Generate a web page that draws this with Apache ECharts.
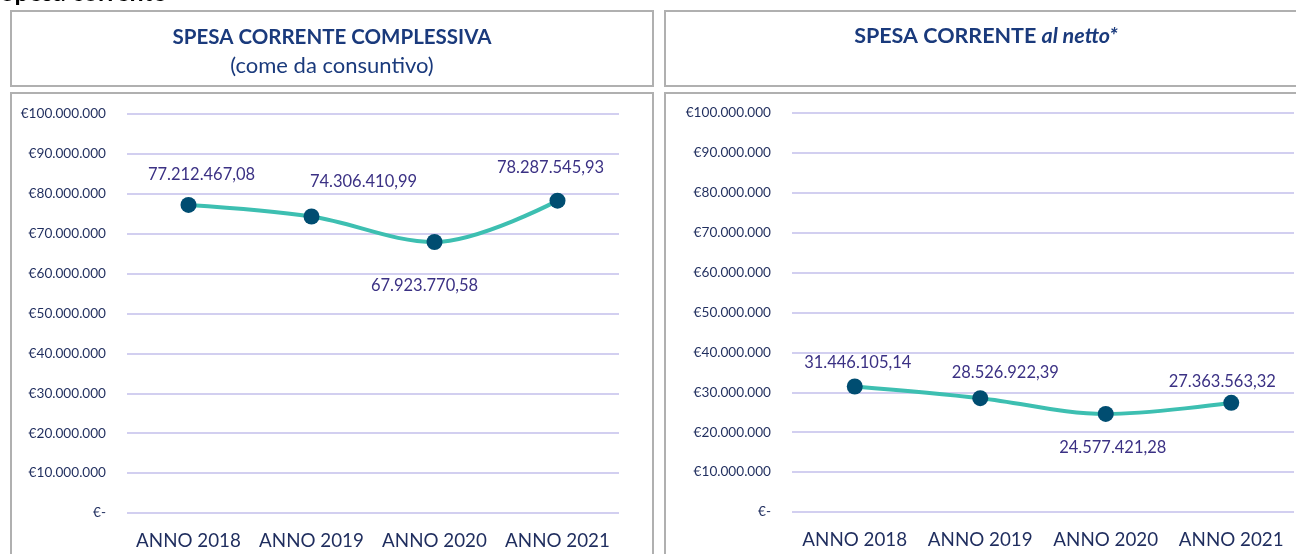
<!DOCTYPE html>
<html>
<head>
<meta charset="utf-8">
<script src="https://cdn.jsdelivr.net/npm/echarts@6/dist/echarts.min.js"></script>
<style>
  html, body { margin: 0; padding: 0; background: #fff; }
  #myChart { width: 1296px; height: 554px; }
</style>
</head>
<body>
<div id="myChart"></div>
<script>
let anni = ['ANNO 2018', 'ANNO 2019', 'ANNO 2020', 'ANNO 2021']
let spesaComplessiva = [77212467.08, 74306410.99, 67923770.58, 78287545.93]
let spesaNetto = [31446105.14, 28526922.39, 24577421.28, 27363563.32]

// where the value labels sit (style only)
let posComplessiva = ['top', 'top', 'bottom', 'top']
let distComplessiva = [14, 18, 27, 16]
let shiftComplessiva = [13, 52, -10, -7]
let posNetto = ['top', 'top', 'bottom', 'top']
let distNetto = [7, 9, 17, 5]
let shiftNetto = [3, 25, 7, -9]

let font = 'Lato'
let navy = '#1f2d5e'
let labelColor = '#3b3184'
let titleColor = '#1a3a7c'

function fmtNum(v) {
    let parts = v.toFixed(2).split('.')
    let intPart = parts[0].replace(/\B(?=(\d{3})+(?!\d))/g, '.')
    return intPart + ',' + parts[1]
}

function fmtEuro(v) {
    if (v === 0) return '€-'
    return '€' + String(v).replace(/\B(?=(\d{3})+(?!\d))/g, '.')
}

function makeSeries(values, positions, dists, shifts, idx) {
    return {
        type: 'line',
        xAxisIndex: idx,
        yAxisIndex: idx,
        smooth: 0.35,
        data: values.map(function (v, i) {
            return { value: v, label: { position: positions[i], distance: dists[i], offset: [shifts[i], 0] } }
        }),
        symbol: 'circle',
        symbolSize: 16,
        itemStyle: { color: '#004d71' },
        lineStyle: { color: '#3dbfb1', width: 4 },
        label: {
            show: true,
            color: labelColor,
            fontFamily: font,
            fontSize: 16.5,
            formatter: function (p) { return fmtNum(p.value) }
        },
        z: 3
    }
}

function makeYAxis(idx) {
    return {
        type: 'value',
        gridIndex: idx,
        min: 0,
        max: 100000000,
        interval: 10000000,
        axisLine: { show: false },
        axisTick: { show: false },
        splitLine: { lineStyle: { color: '#d2cff0', width: 2 } },
        axisLabel: {
            color: navy,
            fontFamily: font,
            fontSize: 13.6,
            margin: 21,
            formatter: fmtEuro
        }
    }
}

function makeXAxis(idx) {
    return {
        type: 'category',
        gridIndex: idx,
        data: anni,
        axisLine: { show: false },
        axisTick: { show: false },
        axisLabel: { color: navy, fontFamily: font, fontSize: 18.8, margin: 18, interval: 0 }
    }
}

let boxStyle = { fill: '#fff', stroke: '#b0b0b0', lineWidth: 2 }

let option = {
    animation: false,
    grid: [
        { left: 127, top: 114, width: 492, height: 399 },
        { left: 792, top: 113, width: 502, height: 399 }
    ],
    xAxis: [makeXAxis(0), makeXAxis(1)],
    yAxis: [makeYAxis(0), makeYAxis(1)],
    series: [
        makeSeries(spesaComplessiva, posComplessiva, distComplessiva, shiftComplessiva, 0),
        makeSeries(spesaNetto, posNetto, distNetto, shiftNetto, 1)
    ],
    graphic: [
        { type: 'rect', z: -10, shape: { x: 11, y: 11, width: 642, height: 75 }, style: boxStyle },
        { type: 'rect', z: -10, shape: { x: 11, y: 93, width: 642, height: 480 }, style: boxStyle },
        { type: 'rect', z: -10, shape: { x: 665, y: 11, width: 650, height: 75 }, style: boxStyle },
        { type: 'rect', z: -10, shape: { x: 665, y: 93, width: 650, height: 480 }, style: boxStyle },
        {
            type: 'text', x: 1, y: 5, z: -20,
            style: { text: 'Spesa corrente', fill: '#000', font: 'bold 25px ' + font, verticalAlign: 'bottom' }
        },
        {
            type: 'text', x: 332, y: 37,
            style: { text: 'SPESA CORRENTE COMPLESSIVA', fill: titleColor, font: 'bold 20.5px ' + font, align: 'center', verticalAlign: 'middle' }
        },
        {
            type: 'text', x: 332, y: 66,
            style: { text: '(come da consuntivo)', fill: titleColor, font: '22px ' + font, align: 'center', verticalAlign: 'middle' }
        },
        {
            type: 'text', x: 986, y: 36,
            style: {
                text: '{b|SPESA CORRENTE }{i|al netto*}',
                align: 'center', verticalAlign: 'middle',
                rich: {
                    b: { fill: titleColor, font: 'bold 21.5px ' + font },
                    i: { fill: titleColor, font: 'italic bold 21.5px ' + font }
                }
            }
        }
    ]
}

let myChart = echarts.init(document.getElementById('myChart'))
myChart.setOption(option)
</script>
</body>
</html>
